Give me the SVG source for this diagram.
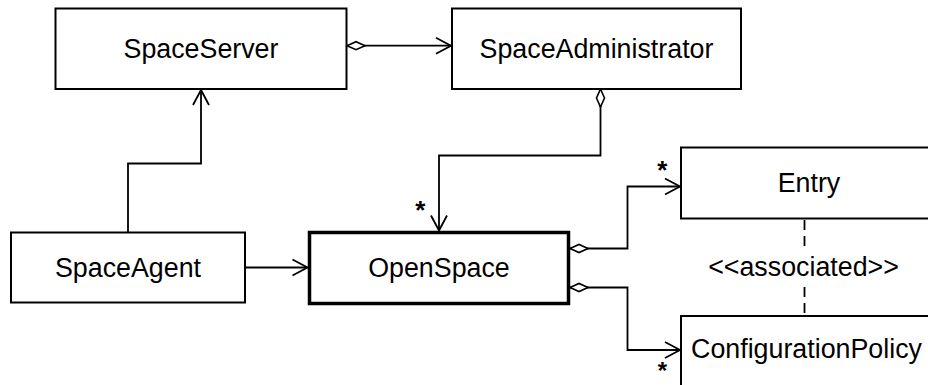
<svg xmlns="http://www.w3.org/2000/svg" width="928" height="385" viewBox="0 0 928 385">
  <style>
    .box { fill: #ffffff; stroke: #000000; stroke-width: 2; }
    .main { stroke-width: 3.5; }
    .label { font-family: "Liberation Sans", Arial, sans-serif; font-size: 26.8px; fill: #000000; text-anchor: middle; }
    .mult { font-family: "Liberation Sans", Arial, sans-serif; font-size: 26px; font-weight: bold; fill: #000000; text-anchor: middle; }
    .link { fill: none; stroke: #000000; stroke-width: 1.8; }
    .dashed { stroke-dasharray: 10 6; }
  </style>
  <defs>
    <!-- open arrowhead for navigable association ends -->
    <marker id="open-arrow" markerUnits="userSpaceOnUse" markerWidth="20" markerHeight="20" viewBox="-17 -10 20 20" refX="0" refY="0" orient="auto" overflow="visible">
      <path d="M-15,-8 L0,0 L-15,8" fill="none" stroke="#000000" stroke-width="1.8"/>
    </marker>
    <!-- hollow diamond for aggregation ends -->
    <marker id="aggregation" markerUnits="userSpaceOnUse" markerWidth="22" markerHeight="12" viewBox="-1 -6 22 12" refX="0" refY="0" orient="auto" overflow="visible">
      <path d="M0,0 L9,-4 L18,0 L9,4 Z" fill="#ffffff" stroke="#000000" stroke-width="1.6"/>
    </marker>
  </defs>

  <rect x="0" y="0" width="928" height="385" fill="#ffffff"/>

  <g id="connectors">
    <path class="link" d="M347,45.7 L451,45.7" marker-start="url(#aggregation)" marker-end="url(#open-arrow)"/>
    <path class="link" d="M128,232 V163.5 H201 V90" marker-end="url(#open-arrow)"/>
    <path class="link" d="M600.5,89 V155.5 H439 V230.5" marker-start="url(#aggregation)" marker-end="url(#open-arrow)"/>
    <path class="link" d="M245,267.5 H307.5" marker-end="url(#open-arrow)"/>
    <path class="link" d="M570,248.5 H627.5 V186.5 H680" marker-start="url(#aggregation)" marker-end="url(#open-arrow)"/>
    <path class="link" d="M570,287.5 H627.5 V350 H680" marker-start="url(#aggregation)" marker-end="url(#open-arrow)"/>
    <path class="link dashed" d="M804.5,220 V246"/>
    <path class="link dashed" d="M804.5,287 V316"/>
    <text class="label" x="803.5" y="276">&lt;&lt;associated&gt;&gt;</text>
    <text class="mult" x="420.3" y="218.5">*</text>
    <text class="mult" x="662.3" y="178.5">*</text>
    <text class="mult" x="662.3" y="379" style="font-size:24px">*</text>
  </g>

  <g id="SpaceServer">
    <rect class="box" x="55.5" y="8.5" width="291" height="80.5"/>
    <text class="label" x="201" y="57.5">SpaceServer</text>
  </g>

  <g id="SpaceAdministrator">
    <rect class="box" x="452" y="8.5" width="289" height="80.5"/>
    <text class="label" x="596.5" y="57.5">SpaceAdministrator</text>
  </g>

  <g id="SpaceAgent">
    <rect class="box" x="11" y="232.5" width="234" height="70"/>
    <text class="label" x="128" y="276.5">SpaceAgent</text>
  </g>

  <g id="OpenSpace">
    <rect class="box main" x="309.5" y="232.5" width="259" height="71"/>
    <text class="label" x="439" y="276.5">OpenSpace</text>
  </g>

  <g id="Entry">
    <rect class="box" x="681" y="147.5" width="270" height="71"/>
    <text class="label" x="809" y="192">Entry</text>
  </g>

  <g id="ConfigurationPolicy">
    <rect class="box" x="681" y="316" width="270" height="90"/>
    <text class="label" x="806.5" y="358">ConfigurationPolicy</text>
  </g>
</svg>
